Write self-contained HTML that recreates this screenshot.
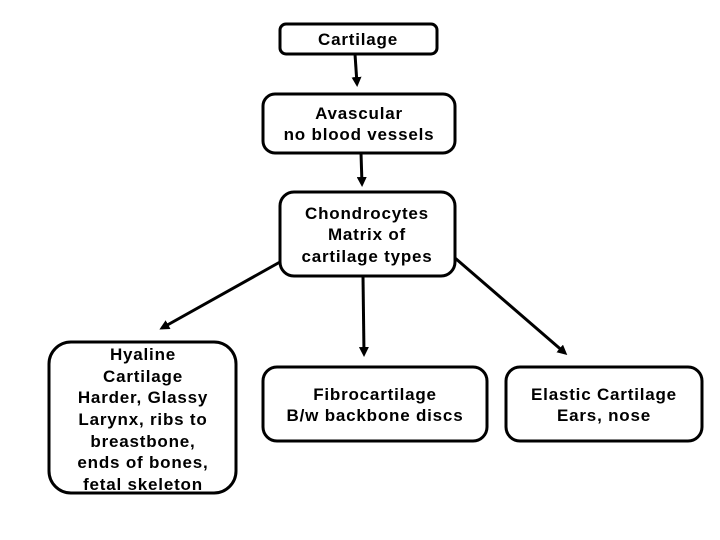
<!DOCTYPE html>
<html><head><style>
html,body{margin:0;padding:0;background:#fff;width:720px;height:540px;overflow:hidden}
text{font-family:"Liberation Sans",Arial,sans-serif;font-weight:bold;font-size:17px;letter-spacing:0.8px;fill:#000;text-anchor:middle}
</style></head><body>
<svg width="720" height="540" xmlns="http://www.w3.org/2000/svg">
<defs><marker id="a" markerWidth="10" markerHeight="10" refX="7" refY="5" orient="auto" markerUnits="userSpaceOnUse"><path d="M0,0 L10,5 L0,10 z" fill="#000"/></marker></defs>
<g fill="none" stroke="#000" stroke-width="3">
<rect x="280" y="24" width="157" height="30" rx="6"/>
<rect x="263" y="94" width="192" height="59" rx="12"/>
<rect x="280" y="192" width="175" height="84" rx="14"/>
<rect x="49" y="342" width="187" height="151" rx="22"/>
<rect x="263" y="367" width="224" height="74" rx="14"/>
<rect x="506" y="367" width="196" height="74" rx="14"/>
<line x1="355" y1="54" x2="357" y2="84" marker-end="url(#a)"/>
<line x1="361" y1="153" x2="362" y2="184" marker-end="url(#a)"/>
<line x1="280" y1="262" x2="162" y2="328" marker-end="url(#a)"/>
<line x1="363" y1="276" x2="364" y2="354" marker-end="url(#a)"/>
<line x1="455" y1="258" x2="565" y2="353" marker-end="url(#a)"/>
</g>
<text x="358" y="45">Cartilage</text>
<text x="359" y="119">Avascular</text>
<text x="359" y="140">no blood vessels</text>
<text x="367" y="219">Chondrocytes</text>
<text x="367" y="240">Matrix of</text>
<text x="367" y="262">cartilage types</text>
<text x="143" y="360">Hyaline</text>
<text x="143" y="382">Cartilage</text>
<text x="143" y="403">Harder, Glassy</text>
<text x="143" y="425">Larynx, ribs to</text>
<text x="143" y="447">breastbone,</text>
<text x="143" y="468">ends of bones,</text>
<text x="143" y="490">fetal skeleton</text>
<text x="375" y="400">Fibrocartilage</text>
<text x="375" y="421">B/w backbone discs</text>
<text x="604" y="400">Elastic Cartilage</text>
<text x="604" y="421">Ears, nose</text>
</svg>
</body></html>
